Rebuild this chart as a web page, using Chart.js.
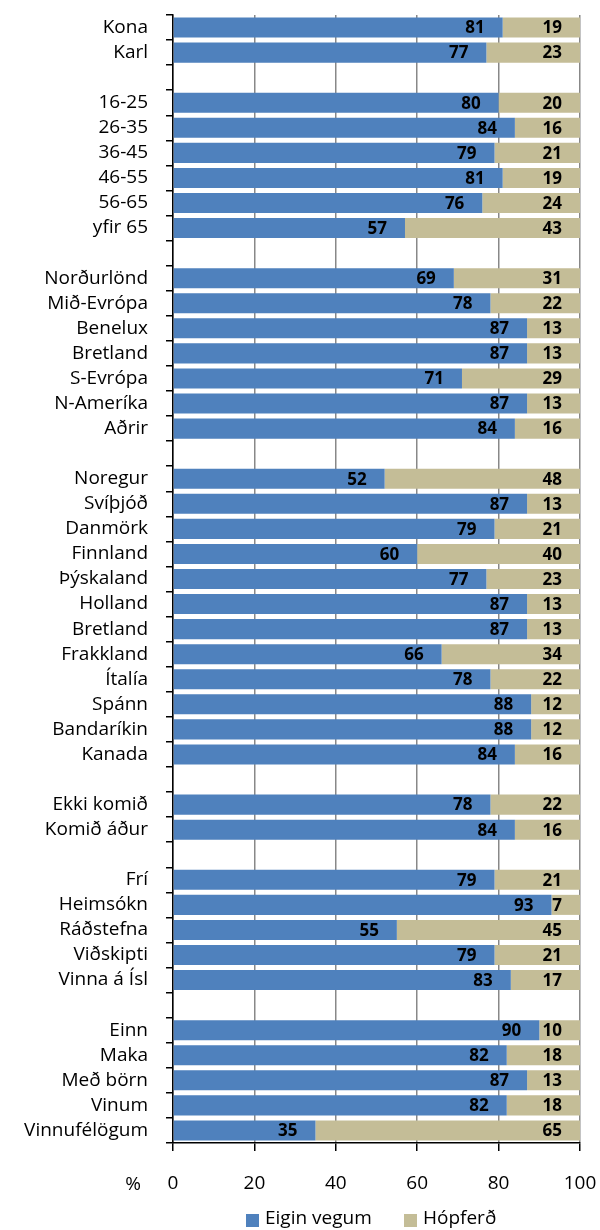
<!DOCTYPE html>
<html>
<head>
<meta charset="utf-8">
<script src="https://cdn.jsdelivr.net/npm/chart.js@4/dist/chart.umd.min.js"></script>
<style>
  html, body { margin: 0; padding: 0; background: #fff; }
  #wrap { width: 600px; height: 1230px; position: relative; }
</style>
</head>
<body>
<div id="wrap"><canvas id="myChart"></canvas></div>
<script>
// categories ('' = empty spacer row)
const categories = [
    'Kona', 'Karl', '',
    '16-25', '26-35', '36-45', '46-55', '56-65', 'yfir 65', '',
    'Norðurlönd', 'Mið-Evrópa', 'Benelux', 'Bretland', 'S-Evrópa', 'N-Ameríka', 'Aðrir', '',
    'Noregur', 'Svíþjóð', 'Danmörk', 'Finnland', 'Þýskaland', 'Holland', 'Bretland', 'Frakkland', 'Ítalía', 'Spánn', 'Bandaríkin', 'Kanada', '',
    'Ekki komið', 'Komið áður', '',
    'Frí', 'Heimsókn', 'Ráðstefna', 'Viðskipti', 'Vinna á Ísl', '',
    'Einn', 'Maka', 'Með börn', 'Vinum', 'Vinnufélögum'
];
const eiginVegum = [
    81, 77, null,
    80, 84, 79, 81, 76, 57, null,
    69, 78, 87, 87, 71, 87, 84, null,
    52, 87, 79, 60, 77, 87, 87, 66, 78, 88, 88, 84, null,
    78, 84, null,
    79, 93, 55, 79, 83, null,
    90, 82, 87, 82, 35
];
const hopferd = [
    19, 23, null,
    20, 16, 21, 19, 24, 43, null,
    31, 22, 13, 13, 29, 13, 16, null,
    48, 13, 21, 40, 23, 13, 13, 34, 22, 12, 12, 16, null,
    22, 16, null,
    21, 7, 45, 21, 17, null,
    10, 18, 13, 18, 65
];
const seriesNames = ['Eigin vegum', 'Hópferð'];
const seriesColors = ['#4F81BD', '#C4BD97'];
const xTicks = [0, 20, 40, 60, 80, 100];

const FONT = '"Open Sans", "DejaVu Sans", sans-serif';

// value labels at the inner end of each bar segment
const barLabels = {
    id: 'barLabels',
    afterDatasetsDraw(chart) {
        const ctx = chart.ctx;
        ctx.save();
        ctx.font = 'bold 17px ' + FONT;
        ctx.fillStyle = '#000';
        ctx.textAlign = 'right';
        ctx.textBaseline = 'middle';
        chart.data.datasets.forEach(function (ds, i) {
            chart.getDatasetMeta(i).data.forEach(function (bar, j) {
                const v = ds.data[j];
                if (v == null) return;
                ctx.fillText(String(v), bar.x - 18, bar.y + 1);
            });
        });
        ctx.restore();
    }
};

// "%" and the legend under the axis
const extras = {
    id: 'extras',
    afterDraw(chart) {
        const ctx = chart.ctx;
        ctx.save();
        ctx.font = '19px ' + FONT;
        ctx.fillStyle = '#000';
        ctx.textBaseline = 'middle';
        ctx.textAlign = 'center';
        ctx.fillText('%', 133, 1185);

        ctx.textAlign = 'left';
        const boxX = [246, 404];
        seriesNames.forEach(function (name, i) {
            ctx.fillStyle = seriesColors[i];
            ctx.fillRect(boxX[i], 1214, 13, 13);
            ctx.fillStyle = '#000';
            ctx.fillText(name, boxX[i] + 19, 1219);
        });
        ctx.restore();
    }
};

new Chart(document.getElementById('myChart'), {
    type: 'bar',
    data: {
        labels: categories,
        datasets: [{
            label: seriesNames[0],
            data: eiginVegum,
            backgroundColor: seriesColors[0],
            borderWidth: 0,
            barPercentage: 0.8,
            categoryPercentage: 1
        }, {
            label: seriesNames[1],
            data: hopferd,
            backgroundColor: seriesColors[1],
            borderWidth: 0,
            barPercentage: 0.8,
            categoryPercentage: 1
        }]
    },
    options: {
        indexAxis: 'y',
        responsive: true,
        maintainAspectRatio: false,
        animation: false,
        layout: { padding: { top: 15, right: 20, left: 0, bottom: 0 } },
        scales: {
            x: {
                stacked: true,
                min: 0,
                max: 100,
                afterBuildTicks: function (scale) {
                    scale.ticks = xTicks.map(v => ({ value: v }));
                },
                afterFit: function (scale) {
                    scale.height = 87;
                    scale.paddingLeft = 0;
                    scale.paddingRight = 0;
                },
                border: { color: '#000', width: 1.5 },
                grid: { color: '#888', lineWidth: 1.5, tickLength: 8, tickColor: '#000' },
                ticks: { color: '#000', font: { family: FONT, size: 19 }, padding: 21 }
            },
            y: {
                stacked: true,
                afterFit: function (scale) {
                    scale.width = 173;
                    scale.paddingTop = 0;
                    scale.paddingBottom = 0;
                },
                border: { color: '#000', width: 1.5 },
                grid: { drawOnChartArea: false, tickLength: 7, tickColor: '#000', lineWidth: 1.5 },
                ticks: { color: '#000', font: { family: FONT, size: 19 }, padding: 18, autoSkip: false }
            }
        },
        plugins: {
            legend: { display: false },
            tooltip: { enabled: false }
        }
    },
    plugins: [barLabels, extras]
});
</script>
</body>
</html>
